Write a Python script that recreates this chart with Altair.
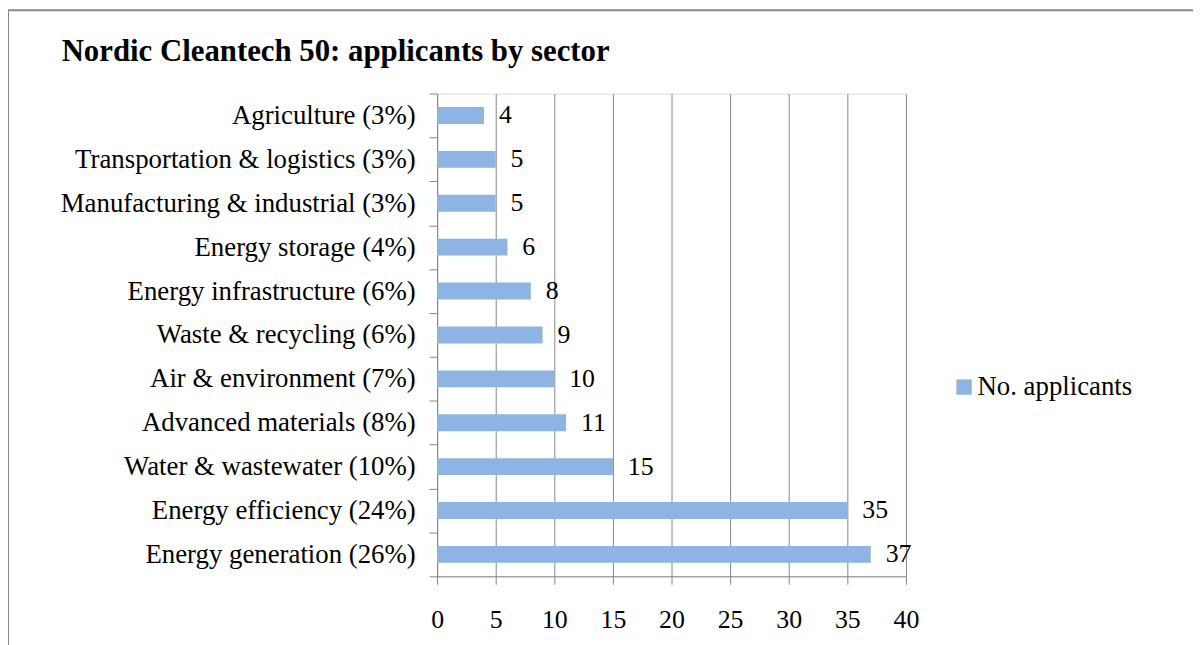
import altair as alt
import pandas as pd

sectors = [
    "Agriculture (3%)",
    "Transportation & logistics (3%)",
    "Manufacturing & industrial (3%)",
    "Energy storage (4%)",
    "Energy infrastructure (6%)",
    "Waste & recycling (6%)",
    "Air & environment (7%)",
    "Advanced materials (8%)",
    "Water & wastewater (10%)",
    "Energy efficiency (24%)",
    "Energy generation (26%)",
]
applicants = [4, 5, 5, 6, 8, 9, 10, 11, 15, 35, 37]
series_name = "No. applicants"
x_ticks = [0, 5, 10, 15, 20, 25, 30, 35, 40]
title_text = "Nordic Cleantech 50: applicants by sector"

df = pd.DataFrame({
    "sector": sectors,
    "applicants": applicants,
    "series": [series_name] * len(sectors),
})

FONT = "'Times New Roman', 'Liberation Serif', Times, serif"
W, H = 472, 486
PL, PT = 432, 84
PR = 1193 - PL - W
PB = 637 - PT - H
GRAY = "#868686"
BAR = "#8DB4E2"

y_enc = alt.Y(
    "sector:N", sort=sectors, title=None,
    scale=alt.Scale(paddingInner=0, paddingOuter=0),
    axis=alt.Axis(tickBand="extent", tickSize=8, labelPadding=14, labelFontSize=27,
                  labelFont=FONT, labelColor="black", domainColor=GRAY, tickColor=GRAY,
                  labelLimit=600, grid=False),
)
x_enc = alt.X(
    "applicants:Q", title=None,
    scale=alt.Scale(domain=[0, 40], nice=False),
    axis=alt.Axis(values=x_ticks, tickSize=8, labelPadding=23, labelFontSize=26,
                  labelFont=FONT, labelColor="black", domainColor=GRAY, tickColor=GRAY,
                  grid=True, gridColor=GRAY, gridOpacity=1, labelFlush=False),
)

base = alt.Chart(df)

bars = base.mark_bar(size=17).encode(
    x=x_enc,
    y=y_enc,
    color=alt.Color(
        "series:N",
        scale=alt.Scale(domain=[series_name], range=[BAR]),
        legend=alt.Legend(title=None, orient="none", legendX=517, legendY=282,
                          symbolType="square", symbolSize=240, symbolStrokeWidth=0,
                          labelFontSize=27, labelFont=FONT, labelColor="black",
                          labelOffset=0, padding=0),
    ),
)

labels = base.mark_text(align="left", baseline="middle", dx=15, fontSize=26,
                        font=FONT, color="black").encode(
    x=alt.X("applicants:Q"),
    y=alt.Y("sector:N", sort=sectors),
    text=alt.Text("applicants:Q"),
)

border = alt.Chart(pd.DataFrame({"k": [0]})).mark_rect(
    fill="transparent", stroke="#878787", strokeWidth=2
).encode(
    x=alt.value(-PL), x2=alt.value(W + PR + 50),
    y=alt.value(-PT), y2=alt.value(H + PB + 50),
)

chart = alt.layer(border, bars, labels).properties(
    width=W, height=H,
    padding={"left": PL, "top": PT, "right": PR, "bottom": PB},
    autosize=alt.AutoSizeParams(type="none"),
    title=alt.TitleParams(title_text, anchor="start", frame="group", dx=-378,
                          fontSize=31, font=FONT, fontWeight="bold", color="black",
                          baseline="alphabetic", offset=-83),
).configure_view(stroke=None).configure(background="white")

chart.save("out.html", embed_options={"renderer": "svg", "actions": False})
